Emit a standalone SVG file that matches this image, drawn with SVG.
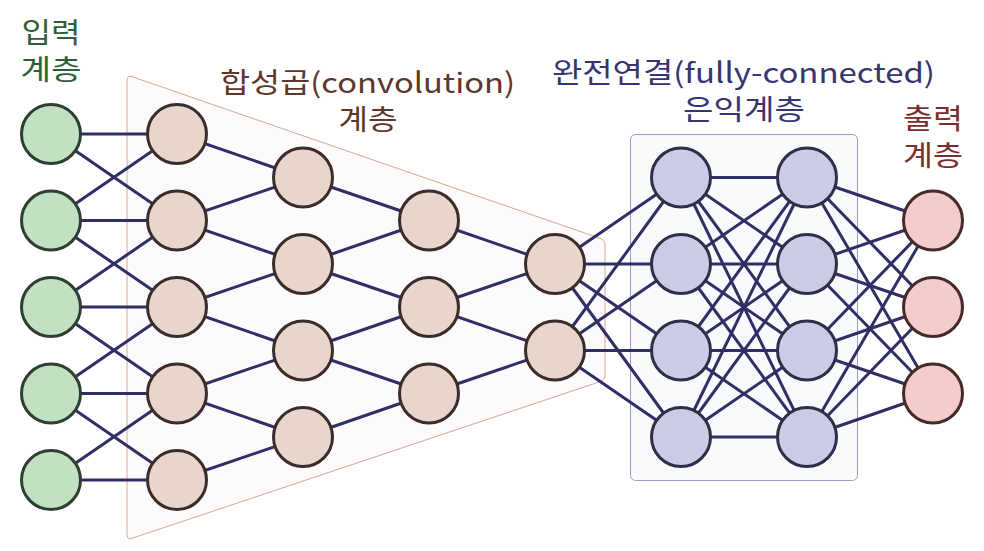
<svg xmlns="http://www.w3.org/2000/svg" width="984" height="551" viewBox="0 0 984 551">
<style>
.lbl{font-family:"Noto Sans CJK KR","Noto Sans",sans-serif;font-size:28px;text-anchor:middle}
.e line{stroke:#2f2f66;stroke-width:3}
.in{fill:#c2e0c2;stroke:#2e3e30;stroke-width:3}
.cv{fill:#e8d6cc;stroke:#3a2c2a;stroke-width:3}
.fc{fill:#cbcbe6;stroke:#2e2e48;stroke-width:3}
.out{fill:#f5cccc;stroke:#46292a;stroke-width:3}
</style>
<rect width="984" height="551" fill="#ffffff"/>
<g id="conv-region">
<path d="M127,80 Q127,75 132,76.7 L600,238.3 Q605,240 605,245 L605,375 Q605,380 600,381.7 L132,538.3 Q127,540 127,535 Z" fill="#fcfafb" stroke="#d8a88e" stroke-width="1"/>
</g>
<g id="fc-region">
<rect x="630.5" y="134.5" width="227" height="346" rx="5" fill="#f9fafc" stroke="#9b9bcc" stroke-width="1"/>
</g>
<g id="labels">
<g id="label-input"><text class="lbl" fill="#2f5e3b"><tspan x="51" y="43" textLength="59" lengthAdjust="spacingAndGlyphs">입력</tspan><tspan x="51" y="80" textLength="61" lengthAdjust="spacingAndGlyphs">계층</tspan></text></g>
<g id="label-conv"><text class="lbl" fill="#5e372c"><tspan x="367.5" y="92.5" textLength="295" lengthAdjust="spacingAndGlyphs">합성곱(convolution)</tspan><tspan x="368" y="129.5" textLength="59" lengthAdjust="spacingAndGlyphs">계층</tspan></text></g>
<g id="label-fc"><text class="lbl" fill="#35356f"><tspan x="743.5" y="83" textLength="383" lengthAdjust="spacingAndGlyphs">완전연결(fully-connected)</tspan><tspan x="744" y="120" textLength="122" lengthAdjust="spacingAndGlyphs">은익계층</tspan></text></g>
<g id="label-out"><text class="lbl" fill="#7a2e2e"><tspan x="933" y="129" textLength="60" lengthAdjust="spacingAndGlyphs">출력</tspan><tspan x="933" y="166" textLength="60" lengthAdjust="spacingAndGlyphs">계층</tspan></text></g>
</g>
<g id="connectors" class="e">
<line x1="51" y1="134" x2="177" y2="134"/>
<line x1="51" y1="220.5" x2="177" y2="220.5"/>
<line x1="51" y1="307" x2="177" y2="307"/>
<line x1="51" y1="393.5" x2="177" y2="393.5"/>
<line x1="51" y1="480" x2="177" y2="480"/>
<line x1="51" y1="134" x2="177" y2="220.5"/>
<line x1="51" y1="220.5" x2="177" y2="134"/>
<line x1="51" y1="220.5" x2="177" y2="307"/>
<line x1="51" y1="307" x2="177" y2="220.5"/>
<line x1="51" y1="307" x2="177" y2="393.5"/>
<line x1="51" y1="393.5" x2="177" y2="307"/>
<line x1="51" y1="393.5" x2="177" y2="480"/>
<line x1="51" y1="480" x2="177" y2="393.5"/>
<line x1="177" y1="134" x2="303" y2="177.5"/>
<line x1="177" y1="220.5" x2="303" y2="177.5"/>
<line x1="177" y1="220.5" x2="303" y2="264"/>
<line x1="177" y1="307" x2="303" y2="264"/>
<line x1="177" y1="307" x2="303" y2="350.5"/>
<line x1="177" y1="393.5" x2="303" y2="350.5"/>
<line x1="177" y1="393.5" x2="303" y2="437"/>
<line x1="177" y1="480" x2="303" y2="437"/>
<line x1="303" y1="177.5" x2="429" y2="220.5"/>
<line x1="303" y1="264" x2="429" y2="220.5"/>
<line x1="303" y1="264" x2="429" y2="307"/>
<line x1="303" y1="350.5" x2="429" y2="307"/>
<line x1="303" y1="350.5" x2="429" y2="393.5"/>
<line x1="303" y1="437" x2="429" y2="393.5"/>
<line x1="429" y1="220.5" x2="555" y2="264"/>
<line x1="429" y1="307" x2="555" y2="264"/>
<line x1="429" y1="307" x2="555" y2="350.5"/>
<line x1="429" y1="393.5" x2="555" y2="350.5"/>
<line x1="555" y1="264" x2="681" y2="177.5"/>
<line x1="555" y1="264" x2="681" y2="264"/>
<line x1="555" y1="264" x2="681" y2="350.5"/>
<line x1="555" y1="264" x2="681" y2="437"/>
<line x1="555" y1="350.5" x2="681" y2="177.5"/>
<line x1="555" y1="350.5" x2="681" y2="264"/>
<line x1="555" y1="350.5" x2="681" y2="350.5"/>
<line x1="555" y1="350.5" x2="681" y2="437"/>
<line x1="681" y1="177.5" x2="807" y2="177.5"/>
<line x1="681" y1="177.5" x2="807" y2="264"/>
<line x1="681" y1="177.5" x2="807" y2="350.5"/>
<line x1="681" y1="177.5" x2="807" y2="437"/>
<line x1="681" y1="264" x2="807" y2="177.5"/>
<line x1="681" y1="264" x2="807" y2="264"/>
<line x1="681" y1="264" x2="807" y2="350.5"/>
<line x1="681" y1="264" x2="807" y2="437"/>
<line x1="681" y1="350.5" x2="807" y2="177.5"/>
<line x1="681" y1="350.5" x2="807" y2="264"/>
<line x1="681" y1="350.5" x2="807" y2="350.5"/>
<line x1="681" y1="350.5" x2="807" y2="437"/>
<line x1="681" y1="437" x2="807" y2="177.5"/>
<line x1="681" y1="437" x2="807" y2="264"/>
<line x1="681" y1="437" x2="807" y2="350.5"/>
<line x1="681" y1="437" x2="807" y2="437"/>
<line x1="807" y1="177.5" x2="933" y2="220.5"/>
<line x1="807" y1="177.5" x2="933" y2="307"/>
<line x1="807" y1="177.5" x2="933" y2="393.5"/>
<line x1="807" y1="264" x2="933" y2="220.5"/>
<line x1="807" y1="264" x2="933" y2="307"/>
<line x1="807" y1="264" x2="933" y2="393.5"/>
<line x1="807" y1="350.5" x2="933" y2="220.5"/>
<line x1="807" y1="350.5" x2="933" y2="307"/>
<line x1="807" y1="350.5" x2="933" y2="393.5"/>
<line x1="807" y1="437" x2="933" y2="220.5"/>
<line x1="807" y1="437" x2="933" y2="307"/>
<line x1="807" y1="437" x2="933" y2="393.5"/>
</g>
<g id="in1"><circle class="in" cx="51" cy="134" r="29.5"/></g>
<g id="in2"><circle class="in" cx="51" cy="220.5" r="29.5"/></g>
<g id="in3"><circle class="in" cx="51" cy="307" r="29.5"/></g>
<g id="in4"><circle class="in" cx="51" cy="393.5" r="29.5"/></g>
<g id="in5"><circle class="in" cx="51" cy="480" r="29.5"/></g>
<g id="c1a"><circle class="cv" cx="177" cy="134" r="29.5"/></g>
<g id="c1b"><circle class="cv" cx="177" cy="220.5" r="29.5"/></g>
<g id="c1c"><circle class="cv" cx="177" cy="307" r="29.5"/></g>
<g id="c1d"><circle class="cv" cx="177" cy="393.5" r="29.5"/></g>
<g id="c1e"><circle class="cv" cx="177" cy="480" r="29.5"/></g>
<g id="c2a"><circle class="cv" cx="303" cy="177.5" r="29.5"/></g>
<g id="c2b"><circle class="cv" cx="303" cy="264" r="29.5"/></g>
<g id="c2c"><circle class="cv" cx="303" cy="350.5" r="29.5"/></g>
<g id="c2d"><circle class="cv" cx="303" cy="437" r="29.5"/></g>
<g id="c3a"><circle class="cv" cx="429" cy="220.5" r="29.5"/></g>
<g id="c3b"><circle class="cv" cx="429" cy="307" r="29.5"/></g>
<g id="c3c"><circle class="cv" cx="429" cy="393.5" r="29.5"/></g>
<g id="c4a"><circle class="cv" cx="555" cy="264" r="29.5"/></g>
<g id="c4b"><circle class="cv" cx="555" cy="350.5" r="29.5"/></g>
<g id="f1a"><circle class="fc" cx="681" cy="177.5" r="29.5"/></g>
<g id="f1b"><circle class="fc" cx="681" cy="264" r="29.5"/></g>
<g id="f1c"><circle class="fc" cx="681" cy="350.5" r="29.5"/></g>
<g id="f1d"><circle class="fc" cx="681" cy="437" r="29.5"/></g>
<g id="f2a"><circle class="fc" cx="807" cy="177.5" r="29.5"/></g>
<g id="f2b"><circle class="fc" cx="807" cy="264" r="29.5"/></g>
<g id="f2c"><circle class="fc" cx="807" cy="350.5" r="29.5"/></g>
<g id="f2d"><circle class="fc" cx="807" cy="437" r="29.5"/></g>
<g id="o1"><circle class="out" cx="933" cy="220.5" r="29.5"/></g>
<g id="o2"><circle class="out" cx="933" cy="307" r="29.5"/></g>
<g id="o3"><circle class="out" cx="933" cy="393.5" r="29.5"/></g>
</svg>
